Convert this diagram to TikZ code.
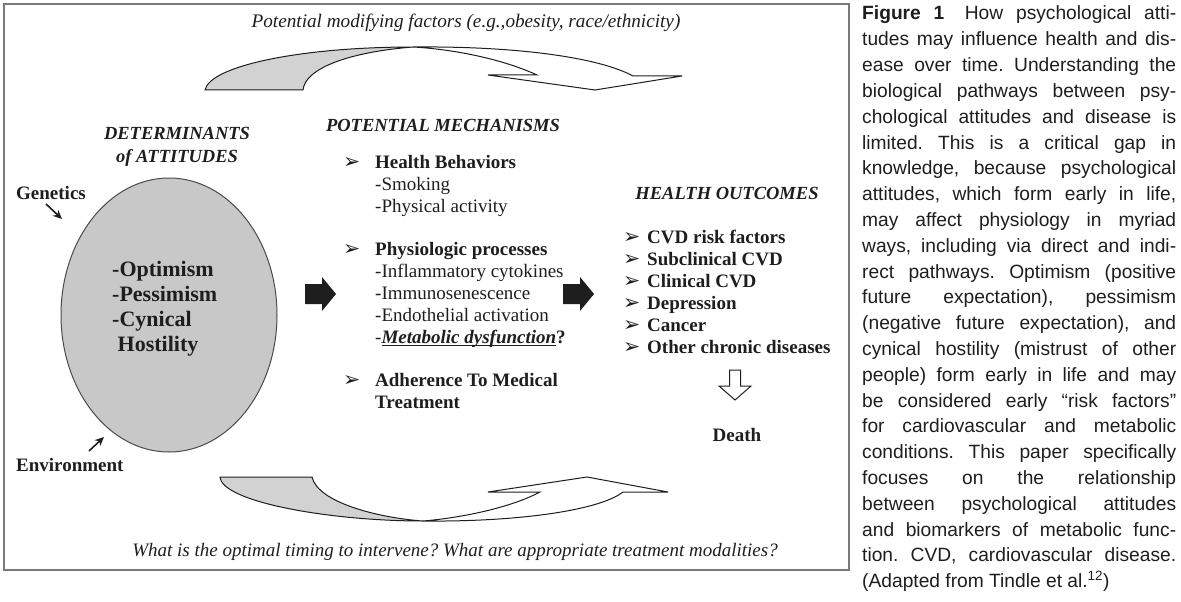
\documentclass[tikz,border=0pt]{standalone}
\usepackage{fontspec}
\setmainfont{Liberation Serif}
\newfontfamily\capfont{Liberation Sans}
\newfontfamily\symfont{DejaVu Sans}
\usetikzlibrary{arrows.meta,shapes.geometric}
\definecolor{framegray}{HTML}{7A7A7A}
\definecolor{ribbon}{HTML}{D2D2D2}
\definecolor{ellfill}{HTML}{C8C8C8}
\definecolor{ink}{HTML}{1E1E1E}
\newcommand{\bul}{{\symfont\fontsize{20.5}{20.5}\selectfont ➢}}
\newcommand{\ulx}[1]{\setbox0\hbox{#1}\rlap{\rule[-3.2pt]{\wd0}{1.1pt}}\box0}
\frenchspacing
\begin{document}
\begin{tikzpicture}[x=1pt,y=-1pt,
  txt/.style={inner sep=0pt, anchor=base west, text=ink},
  ctxt/.style={inner sep=0pt, anchor=base, text=ink},
  body/.style={font=\fontsize{19}{22}\selectfont},
  head/.style={font=\bfseries\itshape\fontsize{18.5}{22}\selectfont},
  bodyb/.style={font=\bfseries\fontsize{19}{22}\selectfont},
  capline/.style={inner sep=0pt, anchor=base west, text=ink, font=\capfont\fontsize{19.2}{25.8}\selectfont},
  smallarrow/.style={-{Stealth[length=9pt,width=8pt]}, line width=1.6pt, draw=ink},
  ribbonshape/.style={line width=1pt, draw=ink}
]
\useasboundingbox (0,0) rectangle (1181,602);
\fill[white] (0,0) rectangle (1181,602);
% frame
\draw[framegray, line width=1.5pt] (4,4) rectangle (849,570);

% top text
\node[ctxt, font=\itshape\fontsize{19.2}{22}\selectfont] (top) at (466,28) {Potential modifying factors (e.g.,obesity, race/ethnicity)};
% bottom text
\node[ctxt, font=\itshape\fontsize{19}{22}\selectfont] (bottom) at (455,556) {What is the optimal timing to intervene? What are appropriate treatment modalities?};

% top ribbon arrow
\filldraw[ribbonshape, fill=ribbon] (205,90) .. controls (210,66) and (300,47) .. (413,47)
   .. controls (350,52) and (305,68) .. (303,90) -- cycle;
\filldraw[ribbonshape, fill=white] (413,47) .. controls (520,46) and (600,58) .. (633,76)
   -- (682,76) -- (595,90) -- (488,75) -- (537,75)
   .. controls (500,58) and (450,49) .. (413,47) -- cycle;

% bottom ribbon arrow
\filldraw[ribbonshape, fill=ribbon] (220,477) -- (312,477) .. controls (318,503) and (380,518) .. (423,521)
   .. controls (330,521) and (222,502) .. (220,477) -- cycle;
\filldraw[ribbonshape, fill=white] (423,521) .. controls (520,522) and (600,510) .. (623,492)
   -- (668,492) -- (587,477) -- (488,492) -- (540,492)
   .. controls (510,508) and (460,518) .. (423,521) -- cycle;

% determinants
\node[ctxt, head] (det1) at (177,139) {DETERMINANTS};
\node[ctxt, head] (det2) at (177,162) {of ATTITUDES};
\node[txt, bodyb] (gen) at (16,199) {Genetics};
\node[txt, bodyb] (env) at (16,471) {Environment};
\coordinate (genA) at (46,204);
\coordinate (genB) at (62,219);
\coordinate (envA) at (89,451);
\coordinate (envB) at (104,437);
\draw[smallarrow] (genA) -- (genB);
\draw[smallarrow] (envA) -- (envB);

\node[draw=ink!80, line width=1pt, fill=ellfill, ellipse, minimum width=216pt, minimum height=274pt, inner sep=0pt] (ell) at (169,315) {};
\node[txt, font=\bfseries\fontsize{22}{25}\selectfont] (o1) at (112,276) {-Optimism};
\node[txt, font=\bfseries\fontsize{22}{25}\selectfont] (o2) at (112,301) {-Pessimism};
\node[txt, font=\bfseries\fontsize{22}{25}\selectfont] (o3) at (112,326) {-Cynical};
\node[txt, font=\bfseries\fontsize{22}{25}\selectfont] (o4) at (112,351) {\ Hostility};

% mechanisms
\node[ctxt, head] (mech) at (443,131) {POTENTIAL MECHANISMS};
\node[txt] (b1) at (343,168) {\bul};
\node[txt, bodyb] (m1) at (375,168) {Health Behaviors};
\node[txt, body] (m2) at (375,190) {-Smoking};
\node[txt, body] (m3) at (375,212) {-Physical activity};
\node[txt] (b2) at (343,255) {\bul};
\node[txt, bodyb] (m4) at (375,255) {Physiologic processes};
\node[txt, body] (m5) at (375,277) {-Inflammatory cytokines};
\node[txt, body] (m6) at (375,299) {-Immunosenescence};
\node[txt, body] (m7) at (375,321) {-Endothelial activation};
\node[txt, body] (m8) at (375,343) {-\textbf{\textit{\ulx{Metabolic dysfunction}}?}};
\node[txt] (b3) at (343,386) {\bul};
\node[txt, bodyb] (m9) at (375,386) {Adherence To Medical};
\node[txt, bodyb] (m10) at (375,408) {Treatment};

% black arrows
\fill[ink] (305,284) -- (322,284) -- (322,277) -- (336,294) -- (322,311) -- (322,304) -- (305,304) -- cycle;
\fill[ink] (563,284) -- (580,284) -- (580,277) -- (594,294) -- (580,311) -- (580,304) -- (563,304) -- cycle;

% outcomes
\node[ctxt, head] (out) at (727,199) {HEALTH OUTCOMES};
\foreach \t [count=\i] in {CVD risk factors, Subclinical CVD, Clinical CVD, Depression, Cancer, Other chronic diseases}{
  \node[txt] (ob\i) at (623,221+22*\i) {\bul};
  \node[txt, bodyb] (oc\i) at (647,221+22*\i) {\t};
}
\draw[ink, line width=1pt, fill=white] (729.5,370) -- (740.5,370) -- (740.5,386) -- (751,386) -- (735,400) -- (719,386) -- (729.5,386) -- cycle;
\node[ctxt, bodyb] (death) at (737,441) {Death};

% caption
\foreach \t [count=\i] in {
{\makebox[314pt][s]{\textbf{Figure 1}\hspace{0.4em} How psychological atti-}},
{\makebox[314pt][s]{tudes may influence health and dis-}},
{\makebox[314pt][s]{ease over time. Understanding the}},
{\makebox[314pt][s]{biological pathways between psy-}},
{\makebox[314pt][s]{chological attitudes and disease is}},
{\makebox[314pt][s]{limited. This is a critical gap in}},
{\makebox[314pt][s]{knowledge, because psychological}},
{\makebox[314pt][s]{attitudes, which form early in life,}},
{\makebox[314pt][s]{may affect physiology in myriad}},
{\makebox[314pt][s]{ways, including via direct and indi-}},
{\makebox[314pt][s]{rect pathways. Optimism (positive}},
{\makebox[314pt][s]{future expectation), pessimism}},
{\makebox[314pt][s]{(negative future expectation), and}},
{\makebox[314pt][s]{cynical hostility (mistrust of other}},
{\makebox[314pt][s]{people) form early in life and may}},
{\makebox[314pt][s]{be considered early “risk factors”}},
{\makebox[314pt][s]{for cardiovascular and metabolic}},
{\makebox[314pt][s]{conditions. This paper specifically}},
{\makebox[314pt][s]{focuses on the relationship}},
{\makebox[314pt][s]{between psychological attitudes}},
{\makebox[314pt][s]{and biomarkers of metabolic func-}},
{\makebox[314pt][s]{tion. CVD, cardiovascular disease.}},
{(Adapted from Tindle et al.\textsuperscript{12})}}{
  \node[capline] (cap\i) at (862,-5.8+25.8*\i) {\t};
}
\end{tikzpicture}
\end{document}
